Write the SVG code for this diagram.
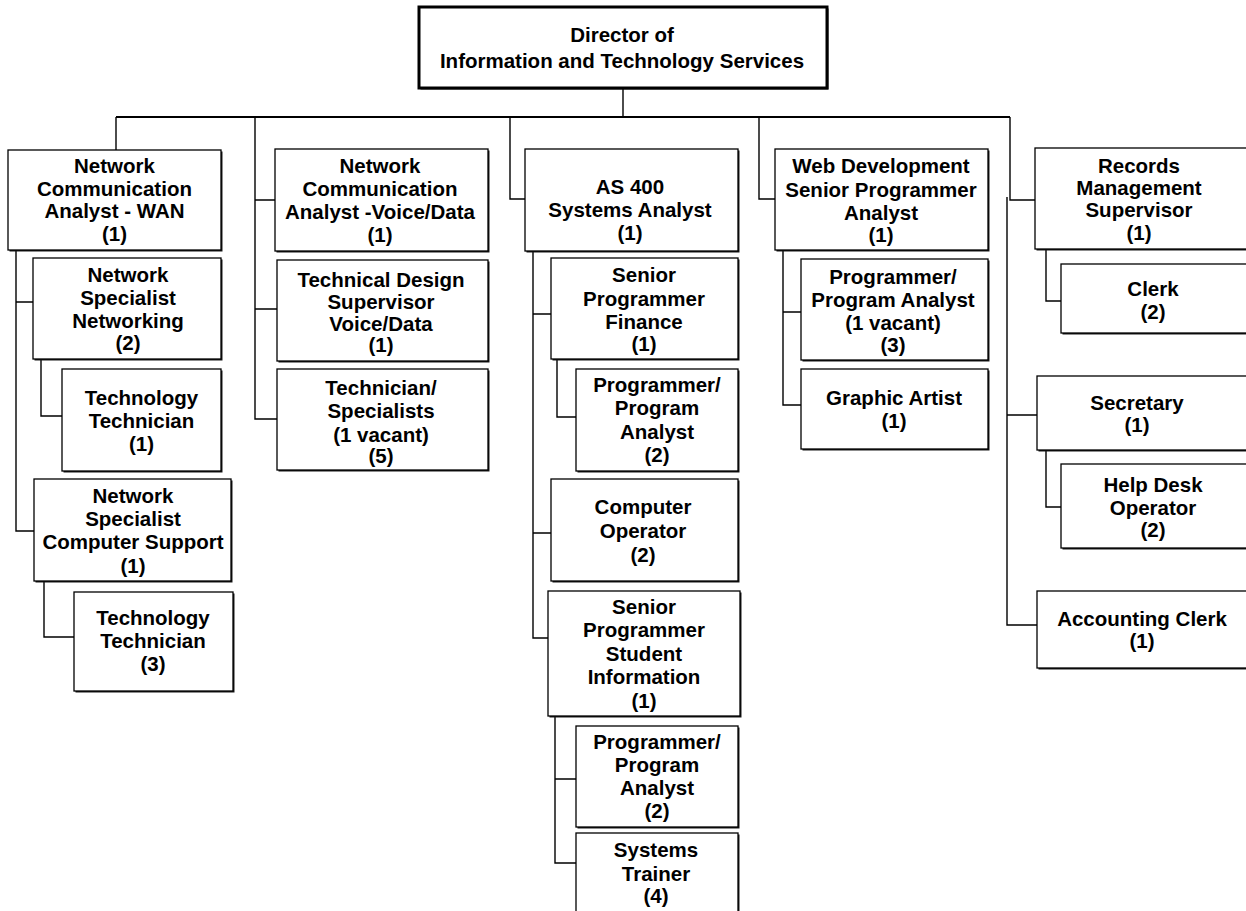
<svg xmlns="http://www.w3.org/2000/svg" width="1246" height="911" viewBox="0 0 1246 911">
  <style>
    .bg { fill: #ffffff; }
    .sh { fill: #1a1a1a; }
    .bx { fill: #ffffff; stroke: #000000; stroke-width: 1.3; }
    .top { fill: #ffffff; stroke: #000000; stroke-width: 3; }
    .ln { fill: none; stroke: #000000; stroke-width: 1.4; }
    .bus { fill: none; stroke: #000000; stroke-width: 2.2; }
    text { font-family: "Liberation Sans", Arial, Helvetica, sans-serif; font-weight: bold; font-size: 20.5px; fill: #000000; text-anchor: middle; }
  </style>
  <rect class="bg" x="0" y="0" width="1246" height="911"/>

  <!-- reporting lines -->
  <g id="connectors">
    <path class="ln" d="M623 88 V117"/>
    <path class="bus" d="M116 117 H1010"/>
    <!-- first column -->
    <path class="ln" d="M116 117 V150"/>
    <path class="ln" d="M16 250 V531 H34 M16 302 H33"/>
    <path class="ln" d="M41 359 V416 H62"/>
    <path class="ln" d="M44 581 V637 H74"/>
    <!-- voice/data column -->
    <path class="ln" d="M255 117 V419 H277 M255 200 H275 M255 309 H277"/>
    <!-- AS 400 column -->
    <path class="ln" d="M510 117 V199 H525"/>
    <path class="ln" d="M533 251 V638 H548 M533 314 H551 M533 533 H551"/>
    <path class="ln" d="M557 359 V417 H576"/>
    <path class="ln" d="M555 716 V863 H576 M555 779 H576"/>
    <!-- web development column -->
    <path class="ln" d="M759 117 V199 H775"/>
    <path class="ln" d="M783 250 V405 H801 M783 312 H801"/>
    <!-- administrative column -->
    <path class="ln" d="M1010 117 V200 H1035"/>
    <path class="ln" d="M1007 197 V625 H1037 M1007 415 H1037"/>
    <path class="ln" d="M1046 249 V301 H1061"/>
    <path class="ln" d="M1046 450 V507 H1061"/>
  </g>

  <g id="director">
    <rect class="sh" x="420.5" y="8.5" width="408" height="81"/>
    <rect class="top" x="419" y="7" width="408" height="81"/>
    <text x="622"><tspan x="622" y="42">Director of</tspan><tspan x="622" y="68">Information and Technology Services</tspan></text>
  </g>

  <g id="nca-wan">
    <rect class="sh" x="9.5" y="151.5" width="213" height="100"/>
    <rect class="bx" x="8" y="150" width="213" height="100"/>
    <text><tspan x="114.5" y="173">Network</tspan><tspan x="114.5" y="195.5">Communication</tspan><tspan x="114.5" y="218">Analyst - WAN</tspan><tspan x="114.5" y="240.5">(1)</tspan></text>
  </g>

  <g id="ns-networking">
    <rect class="sh" x="34.5" y="259.5" width="188" height="101"/>
    <rect class="bx" x="33" y="258" width="188" height="101"/>
    <text><tspan x="128" y="282">Network</tspan><tspan x="128" y="305">Specialist</tspan><tspan x="128" y="328">Networking</tspan><tspan x="128" y="350">(2)</tspan></text>
  </g>

  <g id="tech-tech-1">
    <rect class="sh" x="63.5" y="370.5" width="159" height="102"/>
    <rect class="bx" x="62" y="369" width="159" height="102"/>
    <text><tspan x="141.5" y="405">Technology</tspan><tspan x="141.5" y="428">Technician</tspan><tspan x="141.5" y="451">(1)</tspan></text>
  </g>

  <g id="ns-computer-support">
    <rect class="sh" x="35.5" y="480.5" width="197" height="102"/>
    <rect class="bx" x="34" y="479" width="197" height="102"/>
    <text><tspan x="133" y="503">Network</tspan><tspan x="133" y="526">Specialist</tspan><tspan x="133" y="549">Computer Support</tspan><tspan x="133" y="573">(1)</tspan></text>
  </g>

  <g id="tech-tech-3">
    <rect class="sh" x="75.5" y="593.5" width="159" height="99"/>
    <rect class="bx" x="74" y="592" width="159" height="99"/>
    <text><tspan x="153" y="625">Technology</tspan><tspan x="153" y="648">Technician</tspan><tspan x="153" y="671">(3)</tspan></text>
  </g>

  <g id="nca-voice-data">
    <rect class="sh" x="276.5" y="150.5" width="213" height="102"/>
    <rect class="bx" x="275" y="149" width="213" height="102"/>
    <text><tspan x="380" y="173">Network</tspan><tspan x="380" y="196">Communication</tspan><tspan x="380" y="219">Analyst -Voice/Data</tspan><tspan x="380" y="241.5">(1)</tspan></text>
  </g>

  <g id="tech-design-supervisor">
    <rect class="sh" x="278.5" y="261.5" width="211" height="101"/>
    <rect class="bx" x="277" y="260" width="211" height="101"/>
    <text><tspan x="381" y="287">Technical Design</tspan><tspan x="381" y="309">Supervisor</tspan><tspan x="381" y="331">Voice/Data</tspan><tspan x="381" y="352">(1)</tspan></text>
  </g>

  <g id="technician-specialists">
    <rect class="sh" x="278.5" y="370.5" width="211" height="101"/>
    <rect class="bx" x="277" y="369" width="211" height="101"/>
    <text><tspan x="381" y="395">Technician/</tspan><tspan x="381" y="418">Specialists</tspan><tspan x="381" y="441.5">(1 vacant)</tspan><tspan x="381" y="463">(5)</tspan></text>
  </g>

  <g id="as400-analyst">
    <rect class="sh" x="526.5" y="150.5" width="213" height="102"/>
    <rect class="bx" x="525" y="149" width="213" height="102"/>
    <text><tspan x="630" y="193.5">AS 400</tspan><tspan x="630" y="216.5">Systems Analyst</tspan><tspan x="630" y="239.5">(1)</tspan></text>
  </g>

  <g id="sr-prog-finance">
    <rect class="sh" x="552.5" y="259.5" width="187" height="101"/>
    <rect class="bx" x="551" y="258" width="187" height="101"/>
    <text><tspan x="644" y="282">Senior</tspan><tspan x="644" y="305.5">Programmer</tspan><tspan x="644" y="328.5">Finance</tspan><tspan x="644" y="351">(1)</tspan></text>
  </g>

  <g id="prog-analyst-finance">
    <rect class="sh" x="577.5" y="370.5" width="162" height="102"/>
    <rect class="bx" x="576" y="369" width="162" height="102"/>
    <text><tspan x="657" y="392">Programmer/</tspan><tspan x="657" y="415">Program</tspan><tspan x="657" y="438.5">Analyst</tspan><tspan x="657" y="462">(2)</tspan></text>
  </g>

  <g id="computer-operator">
    <rect class="sh" x="552.5" y="480.5" width="187" height="102"/>
    <rect class="bx" x="551" y="479" width="187" height="102"/>
    <text><tspan x="643" y="514">Computer</tspan><tspan x="643" y="538">Operator</tspan><tspan x="643" y="561.5">(2)</tspan></text>
  </g>

  <g id="sr-prog-student-info">
    <rect class="sh" x="549.5" y="592.5" width="192" height="125"/>
    <rect class="bx" x="548" y="591" width="192" height="125"/>
    <text><tspan x="644" y="613.5">Senior</tspan><tspan x="644" y="637">Programmer</tspan><tspan x="644" y="660.5">Student</tspan><tspan x="644" y="684">Information</tspan><tspan x="644" y="708">(1)</tspan></text>
  </g>

  <g id="prog-analyst-student">
    <rect class="sh" x="577.5" y="727.5" width="162" height="101"/>
    <rect class="bx" x="576" y="726" width="162" height="101"/>
    <text><tspan x="657" y="749">Programmer/</tspan><tspan x="657" y="772">Program</tspan><tspan x="657" y="795">Analyst</tspan><tspan x="657" y="818">(2)</tspan></text>
  </g>

  <g id="systems-trainer">
    <rect class="sh" x="577.5" y="834.5" width="162" height="92"/>
    <rect class="bx" x="576" y="833" width="162" height="92"/>
    <text><tspan x="656" y="857">Systems</tspan><tspan x="656" y="880.5">Trainer</tspan><tspan x="656" y="903">(4)</tspan></text>
  </g>

  <g id="web-dev">
    <rect class="sh" x="776.5" y="150.5" width="213" height="101"/>
    <rect class="bx" x="775" y="149" width="213" height="101"/>
    <text><tspan x="881" y="173">Web Development</tspan><tspan x="881" y="196.5">Senior Programmer</tspan><tspan x="881" y="220">Analyst</tspan><tspan x="881" y="242">(1)</tspan></text>
  </g>

  <g id="prog-analyst-web">
    <rect class="sh" x="802.5" y="260.5" width="187" height="101"/>
    <rect class="bx" x="801" y="259" width="187" height="101"/>
    <text><tspan x="893" y="283.5">Programmer/</tspan><tspan x="893" y="306.5">Program Analyst</tspan><tspan x="893" y="330">(1 vacant)</tspan><tspan x="893" y="351.5">(3)</tspan></text>
  </g>

  <g id="graphic-artist">
    <rect class="sh" x="802.5" y="370.5" width="187" height="80"/>
    <rect class="bx" x="801" y="369" width="187" height="80"/>
    <text><tspan x="894" y="405">Graphic Artist</tspan><tspan x="894" y="427.5">(1)</tspan></text>
  </g>

  <g id="records-supervisor">
    <rect class="sh" x="1036.5" y="149.5" width="215" height="101"/>
    <rect class="bx" x="1035" y="148" width="215" height="101"/>
    <text><tspan x="1139" y="173">Records</tspan><tspan x="1139" y="195">Management</tspan><tspan x="1139" y="217">Supervisor</tspan><tspan x="1139" y="240">(1)</tspan></text>
  </g>

  <g id="clerk">
    <rect class="sh" x="1062.5" y="265.5" width="189" height="69"/>
    <rect class="bx" x="1061" y="264" width="189" height="69"/>
    <text><tspan x="1153" y="296">Clerk</tspan><tspan x="1153" y="319">(2)</tspan></text>
  </g>

  <g id="secretary">
    <rect class="sh" x="1038.5" y="377.5" width="213" height="74"/>
    <rect class="bx" x="1037" y="376" width="213" height="74"/>
    <text><tspan x="1137" y="410">Secretary</tspan><tspan x="1137" y="431.5">(1)</tspan></text>
  </g>

  <g id="help-desk">
    <rect class="sh" x="1062.5" y="465.5" width="189" height="84"/>
    <rect class="bx" x="1061" y="464" width="189" height="84"/>
    <text><tspan x="1153" y="492">Help Desk</tspan><tspan x="1153" y="514.5">Operator</tspan><tspan x="1153" y="537">(2)</tspan></text>
  </g>

  <g id="accounting-clerk">
    <rect class="sh" x="1038.5" y="592.5" width="213" height="77"/>
    <rect class="bx" x="1037" y="591" width="213" height="77"/>
    <text><tspan x="1142" y="626">Accounting Clerk</tspan><tspan x="1142" y="648">(1)</tspan></text>
  </g>
</svg>
